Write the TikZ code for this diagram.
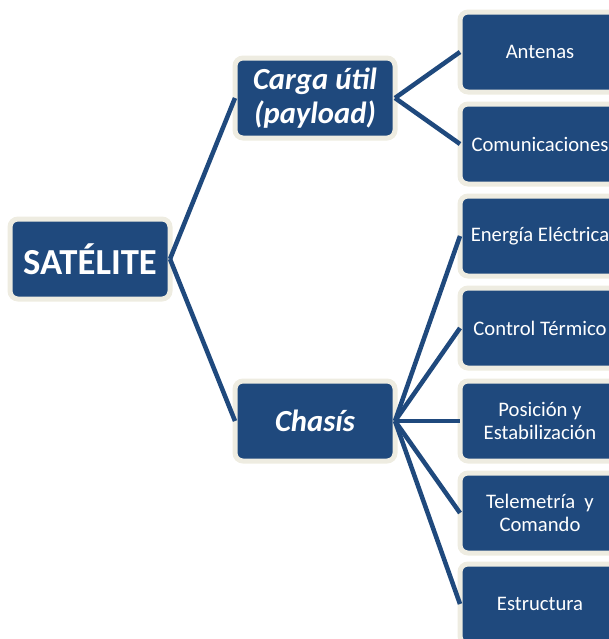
\documentclass[tikz,border=0pt]{standalone}
\usepackage{fontspec}
\setmainfont{Carlito}
\usetikzlibrary{positioning}
\definecolor{boxBlue}{HTML}{1F497D}
\definecolor{boxRim}{HTML}{EEECE1}
\tikzset{
  box/.style={draw=boxRim, line width=3.75pt, fill=boxBlue, rounded corners=6pt,
    minimum width=120pt, minimum height=60pt, inner sep=2pt, outer sep=0pt,
    text=white, align=center},
  bigbox/.style={box, font=\fontsize{27.5}{30}\selectfont\bfseries},
  midbox/.style={box, font=\fontsize{23}{25}\selectfont\bfseries\itshape},
  smallbox/.style={box, font=\fontsize{15.5}{17.5}\selectfont},
  link/.style={boxBlue, line width=3.4pt},
}

\begin{document}
\begin{tikzpicture}[x=0.75pt,y=-0.75pt]
				\useasboundingbox (0,0) rectangle (608,639);
				\node[bigbox] (sat) at (90,259) {SATÉLITE};
				\node[midbox] (carga) at (315,98) {Carga útil\\(payload)};
				\node[midbox] (chasis) at (315,421) {Chasís};
				% subsistemas de la carga util
				\node[smallbox] (antenas) at (540,52) {Antenas};
				\node[smallbox] (comunic) at (540,144) {Comunicaciones};
				% subsistemas del chasis
				\node[smallbox] (energia) at (540,236) {Energía Eléctrica};
				\node[smallbox] (termico) at (540,328) {Control Térmico};
				\node[smallbox] (posicion) at (540,421) {Posición y\\Estabilización};
				\node[smallbox] (telemetria) at (540,513) {Telemetría~ y\\Comando};
				\node[smallbox] (estructura) at (540,604) {Estructura};
				\draw[link] (sat.east) -- (carga.west);
				\draw[link] (sat.east) -- (chasis.west);
				\draw[link] (carga.east) -- (antenas.west);
				\draw[link] (carga.east) -- (comunic.west);
				\foreach \n in {energia,termico,posicion,telemetria,estructura}
				  \draw[link] (chasis.east) -- (\n.west);
				\end{tikzpicture}
\end{document}
